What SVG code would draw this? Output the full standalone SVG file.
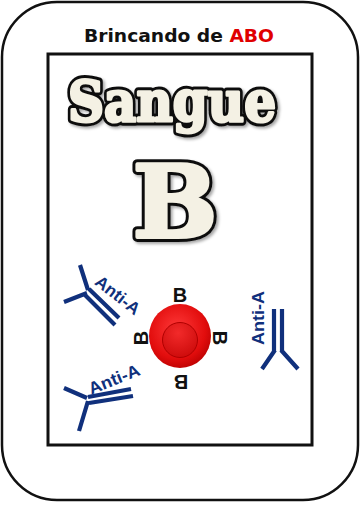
<svg xmlns="http://www.w3.org/2000/svg" width="361" height="506" viewBox="0 0 361 506">
  <style>
    .frame { fill: #fff; stroke: #111; }
    .title { font-family: "DejaVu Sans", "Liberation Sans", sans-serif; font-weight: bold; font-size: 18px; }
    .big { font-family: "DejaVu Serif", "Liberation Serif", serif; font-weight: bold; text-anchor: middle; stroke-linejoin: round; }
    .outline { fill: #111; stroke: #111; }
    .face { fill: #f4f1e4; stroke: #f4f1e4; }
    .ag { font-family: "Liberation Sans", "DejaVu Sans", sans-serif; font-weight: bold; font-size: 20px; fill: #111; text-anchor: middle; }
    .ab { font-family: "Liberation Sans", "DejaVu Sans", sans-serif; font-weight: bold; font-size: 17px; fill: #10307c; text-anchor: middle; }
    .ig { fill: none; stroke: #10307c; stroke-width: 4.2; stroke-linecap: butt; }
  </style>
  <defs>
    <filter id="shadow" x="-10%" y="-10%" width="130%" height="130%">
      <feDropShadow dx="2" dy="2" stdDeviation="1.5" flood-color="#000" flood-opacity="0.35"/>
    </filter>
    <radialGradient id="cellOuter" cx="0.45" cy="0.4" r="0.65">
      <stop offset="0" stop-color="#ff3a3a"/>
      <stop offset="0.7" stop-color="#e20d0d"/>
      <stop offset="1" stop-color="#b80000"/>
    </radialGradient>
    <radialGradient id="cellInner" cx="0.45" cy="0.3" r="0.8">
      <stop offset="0" stop-color="#f22a2a"/>
      <stop offset="1" stop-color="#c90808"/>
    </radialGradient>
  </defs>

  <!-- card frame -->
  <g id="card">
    <rect class="frame" x="2" y="2" width="356" height="498" rx="55" ry="55" stroke-width="2.5"/>
    <rect class="frame" x="48" y="54" width="264" height="391" stroke-width="3"/>
  </g>

  <!-- heading -->
  <g id="title">
    <text class="title" x="179" y="42" text-anchor="middle" textLength="190" lengthAdjust="spacingAndGlyphs"><tspan fill="#111">Brincando de </tspan><tspan fill="#e00000">ABO</tspan></text>
  </g>

  <!-- fat display lettering: a thick dark outline layer under a widened cream face -->
  <g id="sangue">
    <g filter="url(#shadow)">
      <text class="big outline" x="172" y="121" font-size="56" stroke-width="9" textLength="208" lengthAdjust="spacingAndGlyphs">Sangue</text>
    </g>
    <text class="big face" x="172" y="121" font-size="56" stroke-width="3" textLength="208" lengthAdjust="spacingAndGlyphs">Sangue</text>
  </g>

  <g id="group-b">
    <g filter="url(#shadow)">
      <text class="big outline" x="175" y="237" font-size="100" stroke-width="10">B</text>
    </g>
    <text class="big face" x="175" y="237" font-size="100" stroke-width="4">B</text>
  </g>

  <!-- red blood cell with B antigens -->
  <g id="cell">
    <ellipse cx="180" cy="336" rx="31" ry="32" fill="url(#cellOuter)"/>
    <circle cx="180" cy="340" r="17.5" fill="url(#cellInner)" stroke="#b00000" stroke-width="1"/>
    <text class="ag" transform="translate(180,295)" dy="0.36em">B</text>
    <text class="ag" transform="translate(141,338) rotate(-90)" dy="0.36em">B</text>
    <text class="ag" transform="translate(220,338) rotate(90)" dy="0.36em">B</text>
    <text class="ag" transform="translate(181,382) rotate(180)" dy="0.36em">B</text>
  </g>

  <!-- anti-A antibodies -->
  <g id="antibody-1">
    <path class="ig" d="M80,265 L88,290 M64,302 L87,293 M89,289 L119,318 M85,295 L115,325"/>
    <text class="ab" transform="translate(118,295) rotate(38)" dy="0.36em" textLength="52" lengthAdjust="spacingAndGlyphs">Anti-A</text>
  </g>

  <g id="antibody-2">
    <path class="ig" d="M64,388 L87,398 M79,431 L88,401 M88,397 L131,389 M89,403 L133,396"/>
    <text class="ab" transform="translate(114,379) rotate(-22)" dy="0.36em" textLength="54" lengthAdjust="spacingAndGlyphs">Anti-A</text>
  </g>

  <g id="antibody-3">
    <path class="ig" d="M274,309 L274,352 M282,309 L282,352 M275,350 L262,369 M281,350 L298,369"/>
    <text class="ab" transform="translate(258,318) rotate(-90)" dy="0.36em" textLength="54" lengthAdjust="spacingAndGlyphs">Anti-A</text>
  </g>
</svg>
